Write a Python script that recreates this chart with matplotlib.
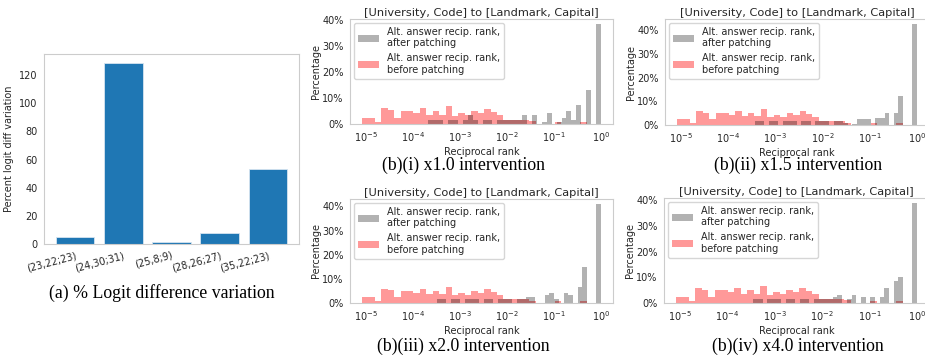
import numpy as np
import matplotlib.pyplot as plt
import seaborn as sns
from matplotlib.ticker import PercentFormatter, LogLocator, NullLocator

# (a) percent logit difference variation per (layer, head; head) pair
pairs = ['(23,22;23)', '(24,30;31)', '(25,8;9)', '(28,26;27)', '(35,22;23)']
logit_diff_var = [5.0, 128.5, 1.2, 7.5, 53.5]

# (b) histograms of reciprocal rank, 35 log-spaced bins each
n_bins = 35
red_log_range = (-5.08, -0.30)
# before patching (same in every panel)
red_pct = [2.5, 2.5, 0.7, 6.0, 5.2, 2.5, 5.1, 5.1, 4.1, 6.0,
           3.6, 5.1, 3.6, 6.8, 3.2, 4.1, 3.5, 4.9, 4.1, 5.8,
           4.7, 3.5, 1.5, 1.5, 1.5, 1.5, 1.0, 0.0, 0.0, 0.0,
           0.7, 0.0, 0.0, 0.0, 0.7]

# after patching: log10 of smallest value per intervention, bins run to 1.0
gray_log_min = [-3.67, -3.43, -3.49, -3.45]
gray_pct_1 = [1.5, 1.5, 1.5, 0.0, 1.5, 1.5, 0.0, 1.5, 3.3, 1.5,
              0.0, 1.5, 1.5, 0.0, 1.5, 1.5, 1.5, 1.5, 1.5, 3.5,
              0.0, 3.5, 0.0, 0.9, 4.1, 0.0, 0.7, 2.4, 5.0, 1.5,
              7.3, 0.0, 13.1, 0.0, 38.5]
gray_pct_2 = [1.5, 1.5, 0.0, 1.5, 1.5, 0.0, 1.5, 1.5, 1.5, 0.0,
              1.5, 1.5, 0.0, 1.5, 1.5, 1.5, 0.0, 1.5, 1.5, 1.0,
              0.0, 0.6, 2.4, 2.4, 2.4, 0.0, 3.1, 3.1, 4.9, 0.0,
              4.9, 12.4, 0.0, 0.0, 42.7]
gray_pct_3 = [1.5, 1.5, 0.0, 1.5, 1.5, 0.0, 1.5, 1.5, 1.5, 0.0,
              1.5, 1.5, 0.0, 1.5, 1.5, 1.5, 0.0, 1.5, 1.5, 2.5,
              2.5, 0.0, 0.0, 3.5, 4.2, 1.5, 0.0, 4.2, 3.5, 0.0,
              6.5, 15.0, 0.0, 0.0, 41.0]
gray_pct_4 = [1.5, 1.5, 0.0, 1.5, 1.5, 1.5, 0.0, 1.5, 1.5, 0.0,
              1.5, 1.5, 0.0, 1.5, 1.5, 1.5, 1.5, 2.3, 3.2, 0.0,
              1.5, 3.2, 0.0, 2.3, 0.0, 2.3, 0.0, 2.3, 5.8, 0.0,
              8.4, 10.0, 0.0, 0.0, 39.0]
gray_pcts = [gray_pct_1, gray_pct_2, gray_pct_3, gray_pct_4]

panel_title = '[University, Code] to [Landmark, Capital]'
captions = ['(b)(i) x1.0 intervention', '(b)(ii) x1.5 intervention',
            '(b)(iii) x2.0 intervention', '(b)(iv) x4.0 intervention']

sns.set_style('white')
plt.rcParams['font.family'] = 'DejaVu Sans'
plt.rcParams['axes.edgecolor'] = '#cccccc'
plt.rcParams['text.color'] = '#262626'

W, H = 925, 360
fig = plt.figure(figsize=(W / 100, H / 100), dpi=100)


def px_axes(l, t, r, b):
    return fig.add_axes([l / W, 1 - b / H, (r - l) / W, (b - t) / H])


# ---- (a) bar chart
ax = px_axes(44, 54, 299, 244)
ax.bar(pairs, logit_diff_var, color='#1f77b4', edgecolor='#d6e4f0', linewidth=0.6)
ax.set_ylabel('Percent logit diff variation', fontsize=7)
ax.set_yticks([0, 20, 40, 60, 80, 100, 120])
ax.tick_params(axis='both', labelsize=7, pad=1)
plt.setp(ax.get_xticklabels(), rotation=15, ha='right', rotation_mode='anchor')
fig.text(162 / W, 1 - 293 / H, '(a) % Logit difference variation',
         family='Liberation Serif', fontsize=12.8, ha='center', va='center',
         color='black')

# ---- (b) histograms
boxes = [(350, 19, 613, 124), (665, 19, 929, 125),
         (350, 199, 613, 303), (664, 198, 929, 303)]
cap_pos = [(463, 165), (798, 165), (463, 346), (798, 346)]
red_edges = 10 ** np.linspace(red_log_range[0], red_log_range[1], n_bins + 1)

for i in range(4):
    ax = px_axes(*boxes[i])
    gray_edges = 10 ** np.linspace(gray_log_min[i], 0, n_bins + 1)
    _, _, red_bars = ax.hist(red_edges[:-1], bins=red_edges, weights=red_pct,
                             color='red', alpha=0.4, edgecolor='none')
    _, _, gray_bars = ax.hist(gray_edges[:-1], bins=gray_edges, weights=gray_pcts[i],
                              color='black', alpha=0.3, edgecolor='none')
    ax.set_xscale('log')
    ax.xaxis.set_major_locator(LogLocator(base=10, numticks=10))
    ax.xaxis.set_minor_locator(NullLocator())
    ax.yaxis.set_major_formatter(PercentFormatter(decimals=0))
    ax.set_yticks([0, 10, 20, 30, 40])
    ax.set_title(panel_title, fontsize=8.2, pad=2)
    ax.set_xlabel('Reciprocal rank', fontsize=7, labelpad=2)
    ax.set_ylabel('Percentage', fontsize=7, labelpad=1)
    ax.tick_params(axis='both', labelsize=7, pad=1)
    ax.legend([gray_bars[0], red_bars[0]],
              ['Alt. answer recip. rank,\nafter patching',
               'Alt. answer recip. rank,\nbefore patching'],
              loc='upper left', fontsize=7, frameon=True, handlelength=2.2,
              borderaxespad=0.4, labelspacing=0.5)
    cx, cy = cap_pos[i]
    fig.text(cx / W, 1 - cy / H, captions[i], family='Liberation Serif',
             fontsize=12.8, ha='center', va='center', color='black')

fig.savefig('out.png', dpi=100)
